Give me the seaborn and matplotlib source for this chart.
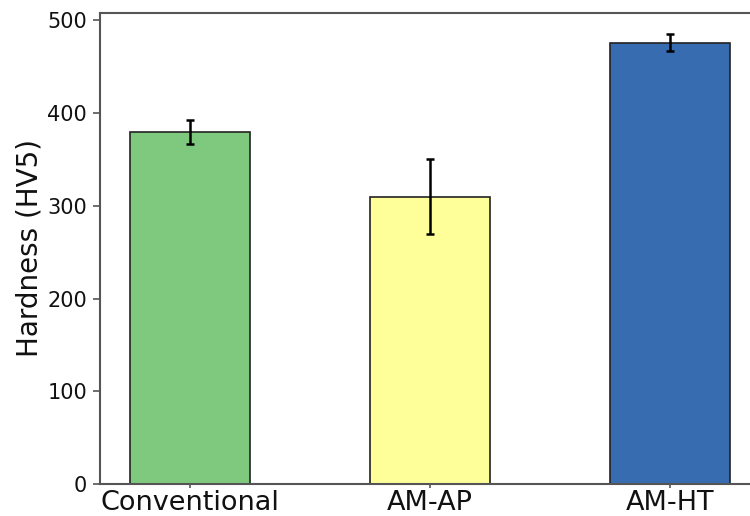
import matplotlib
matplotlib.use("Agg")
import matplotlib.pyplot as plt
import seaborn as sns
import pandas as pd

# Data
samples = ["Conventional", "AM-AP", "AM-HT"]
hardness = [380, 310, 476]
hardness_err = [13, 40, 9]
colors = ["#7fc97f", "#ffff99", "#386cb0"]

df = pd.DataFrame({"sample": samples, "hardness": hardness})

sns.set_style("ticks")
plt.rcParams['font.family'] = ['DejaVu Sans']

fig = plt.figure(figsize=(7.5, 5.16), dpi=100)
ax = fig.add_axes([0.133, 0.062, 0.88, 0.913])

sns.barplot(data=df, x="sample", y="hardness", hue="sample", palette=colors,
            saturation=1, width=0.5, edgecolor="#222222", linewidth=1.2,
            legend=False, ax=ax)
ax.errorbar(range(len(samples)), hardness, yerr=hardness_err, fmt="none",
            ecolor="black", elinewidth=1.8, capsize=3, capthick=1.8)

ax.set_xlim(-0.375, len(samples) - 1 + 0.375)
ax.set_ylim(0, 508)
ax.set_yticks([0, 100, 200, 300, 400, 500])
ax.set_xlabel("")
ax.set_ylabel("Hardness (HV5)", fontsize=20, color="#111111", labelpad=3)
ax.tick_params(axis="y", labelsize=15, width=1.2, length=5, color="#555555",
               labelcolor="#111111", pad=4)
ax.tick_params(axis="x", labelsize=19.5, width=1.2, length=3, color="#555555",
               labelcolor="#111111", pad=1)
for s in ax.spines.values():
    s.set_color("#555555")
    s.set_linewidth(1.5)

fig.savefig("out.png", dpi=100)
